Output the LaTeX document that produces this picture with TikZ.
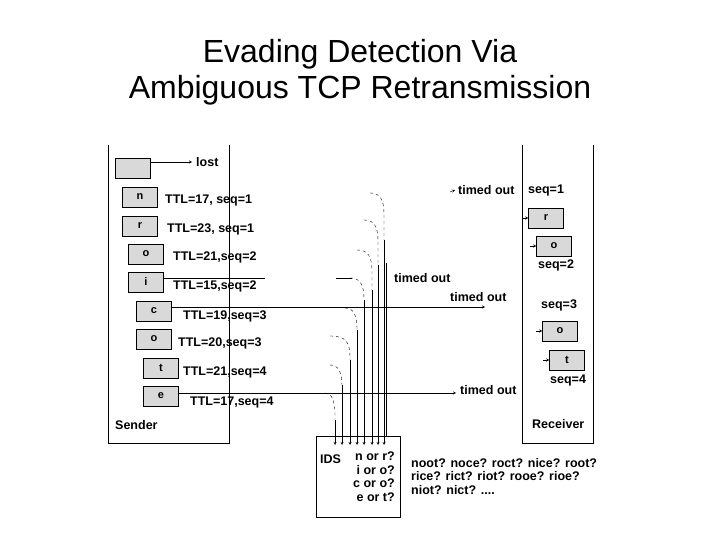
\documentclass[tikz,border=0pt]{standalone}
\usepackage{fontspec}
\setmainfont{Liberation Sans}
\begin{document}
\begin{tikzpicture}[x=1pt,y=-1pt,
  pk/.style={draw,fill=gray!30,minimum width=35pt,minimum height=20pt,inner sep=0pt,font=\bfseries\fontsize{11}{11}\selectfont},
  lab/.style={anchor=west,inner sep=0pt,font=\bfseries\fontsize{12.5}{13}\selectfont},
  arr/.style={->,>=stealth},
  arc/.style={dashed}]
\useasboundingbox (0,0) rectangle (720,540);
\node[align=center,font=\fontsize{32}{36}\selectfont] (title) at (360,72) {Evading Detection Via\\Ambiguous TCP Retransmission};
% sender and receiver frames
\draw (108,145) -- (108,443) -- (229,443) -- (229,145);
\draw (522,145) -- (522,443) -- (593,443) -- (593,145);
\node[lab] (snd) at (115,425) {Sender};
\node[lab] (rcv) at (532,424) {Receiver};
% sender packets
\node[pk] (p0) at (133,168) {};
\node[pk] (p1) at (140,197) {n};
\node[pk] (p2) at (140,226) {r};
\node[pk] (p3) at (146,254) {o};
\node[pk] (p4) at (146,282) {i};
\node[pk] (p5) at (154,311) {c};
\node[pk] (p6) at (154,339) {o};
\node[pk] (p7) at (161,368) {t};
\node[pk] (p8) at (161,396) {e};
\coordinate (lostpt) at (192,162);
\draw[arr] (p0.east |- lostpt) -- (lostpt);
\node[lab] (lost) at (196,162) {lost};
\node[lab] (t1) at (165,200) {TTL=17, seq=1};
\node[lab] (t2) at (167,229) {TTL=23, seq=1};
\node[lab] (t3) at (173,257) {TTL=21,seq=2};
\node[lab] (t4) at (173,286) {TTL=15,seq=2};
\node[lab] (t5) at (183,316) {TTL=19,seq=3};
\node[lab] (t6) at (178,343) {TTL=20,seq=3};
\node[lab] (t7) at (183,372) {TTL=21,seq=4};
\node[lab] (t8) at (190,402) {TTL=17,seq=4};
% drop lines
\coordinate (d4) at (265,278);
\draw (p4.east |- d4) -- (d4);
\draw (336,278) -- (352,278);
\coordinate (d5) at (485,307);
\draw[arr] (p5.east |- d5) -- (d5);
\coordinate (d8) at (456,393);
\draw[arr] (p8.east |- d8) -- (d8);
\node[lab] (to1) at (458,190) {timed out};
\draw[arr] (450,192) -- (455,190);
\node[lab] (to2) at (394,278) {timed out};
\node[lab] (to3) at (450,297) {timed out};
\node[lab] (to4) at (460,390) {timed out};
% IDS
\node[draw,minimum width=84pt,minimum height=81pt,inner sep=0pt] (ids) at (358,477) {};
\node[lab] (idsl) at (320,459) {IDS};
\node[anchor=north east,align=right,inner sep=0pt,font=\bfseries\fontsize{12.5}{13.5}\selectfont] (q) at (395,452) {n or r?\\i or o?\\c or o?\\e or t?};
\node[anchor=north west,align=left,inner sep=0pt,font=\bfseries\fontsize{12.5}{13.5}\selectfont] (cand) at (411,458) {noot? noce? roct? nice? root?\\rice? rict? riot? rooe? rioe?\\niot? nict? ....};
% ambiguous paths
\foreach \sx/\sy/\lx/\ly in {370/193/384/240, 364/220/378/265, 357/250/372/290, 350/278/364/300, 345/308/357/330, 330/336/350/360, 330/365/342/385, 325/393/335/420}{
  \draw[arc] (\sx,\sy) .. controls (\lx-4,\sy) and (\lx,\sy+6) .. (\lx,\sy+22) -- (\lx,\ly);
  \draw[arr] (\lx,\ly) -- (\lx,445);
}
\draw (386,263) -- (386,437);
% receiver
\node[lab] (s1) at (528,190) {seq=1};
\node[pk] (r1) at (546,218) {r};
\node[pk] (r2) at (554,246) {o};
\node[lab] (s2) at (538,265) {seq=2};
\node[lab] (s3) at (541,305) {seq=3};
\node[pk] (r3) at (560,331) {o};
\node[pk] (r4) at (567,360) {t};
\node[lab] (s4) at (550,380) {seq=4};
\foreach \n in {r1,r2,r3,r4}{\draw[arr] ([xshift=-6pt]\n.west) -- (\n.west);}
\end{tikzpicture}
\end{document}
